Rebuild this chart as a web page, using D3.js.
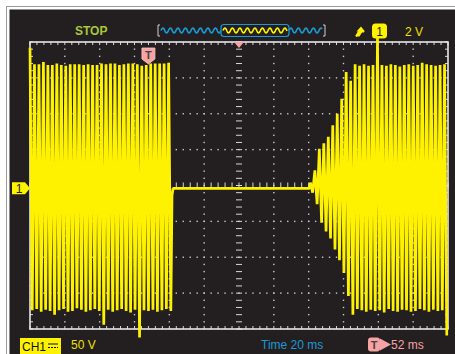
<!DOCTYPE html>
<html>
<head>
<meta charset="utf-8">
<script src="https://cdn.jsdelivr.net/npm/d3@7"></script>
<style>
	body { margin: 0; background: #fff; }
	svg { display: block; font-family: "Liberation Sans", Arial, sans-serif; }
</style>
</head>
<body>
<div id="chart"></div>
<script>
// scope settings
var voltsPerDiv = 50, msPerDiv = 20;
var ch1Offset = -4;          // V, ground marker sits just under centre
var triggerTime = -52;       // ms from screen centre
var samplePeriod = 2.567;    // ms between peaks on screen

// first burst (left), one top + one bottom per cycle, volts
var burst1Start = -120;
var burst1Tops = [196,173,173,176,172,172,174,172,171,173,173,173,172,173,172,172,
	174,173,174,174,172,173,174,174,173,171,172,174,174,174,174,175];
var burst1Bottoms = [-170,-168,-172,-169,-171,-176,-170,-168,-172,-171,-167,-169,-172,-170,-168,-171,
	-190,-169,-172,-170,-168,-171,-173,-169,-208,-170,-171,-169,-172,-170,-168,-171];

// second burst (right), ramps up from zero
var burst2Start = 41;
var burst2Tops = [8,25,55,63,72,88,104,125,162,150,173,171,173,171,172,210,
	172,171,173,172,170,172,173,171,172,175,173,172,171,172,173];
var burst2Bottoms = [-6,-22,-48,-60,-70,-85,-100,-118,-150,-176,-168,-170,-172,-169,-171,-170,
	-173,-168,-171,-172,-169,-170,-172,-171,-168,-170,-172,-169,-171,-170,-205];

// status texts
var statusText = 'STOP', ch1Label = 'CH1', ch1Scale = '50 V', trigLevel = '2 V',
	timeLabel = 'Time 20 ms', trigDelay = '52 ms';

var W = 455, H = 354;
var yellow = '#fff200', blue = '#1a9ad6', pink = '#f5a3a3', green = '#a8c83a';

var x = d3.scaleLinear().domain([-6 * msPerDiv, 6 * msPerDiv]).range([30, 448]);
var y = d3.scaleLinear().domain([-4 * voltsPerDiv, 4 * voltsPerDiv]).range([329, 42]);

var svg = d3.select('#chart').append('svg')
	.attr('width', W).attr('height', H);

// screen frame
svg.append('rect').attr('x', 6.5).attr('y', 6.5).attr('width', W).attr('height', H)
	.attr('fill', 'none').attr('stroke', '#9a9a9a');
svg.append('rect').attr('x', 9.5).attr('y', 9.5).attr('width', W).attr('height', H)
	.attr('fill', '#231f20');

// graticule
var grid = svg.append('g');
var minorT = d3.range(-120, 120.001, msPerDiv / 5);
var minorV = d3.range(-200, 200.001, voltsPerDiv / 5);
var divT = d3.range(-100, 100.001, msPerDiv).filter(function(d) { return d != 0; });
var divV = d3.range(-150, 150.001, voltsPerDiv).filter(function(d) { return d != 0; });

var dots = [];
divT.forEach(function(t) { minorV.slice(1, -1).forEach(function(v) { dots.push([t, v]); }); });
divV.forEach(function(v) { minorT.slice(1, -1).forEach(function(t) { dots.push([t, v]); }); });
grid.selectAll('rect.dot').data(dots).enter().append('rect')
	.attr('class', 'dot')
	.attr('x', function(d) { return x(d[0]) - 0.7; })
	.attr('y', function(d) { return y(d[1]) - 0.7; })
	.attr('width', 1.4).attr('height', 1.4)
	.attr('fill', '#c9c9c9');

var ticks = [];
minorT.forEach(function(t) {
	ticks.push([x(t), 42, x(t), 45]);
	ticks.push([x(t), 329, x(t), 326]);
	ticks.push([x(t), y(0) - 3, x(t), y(0) + 3]);
});
minorV.forEach(function(v) {
	ticks.push([30, y(v), 33, y(v)]);
	ticks.push([448, y(v), 445, y(v)]);
	ticks.push([x(0) - 3, y(v), x(0) + 3, y(v)]);
});
grid.selectAll('line').data(ticks).enter().append('line')
	.attr('x1', function(d) { return d[0]; }).attr('y1', function(d) { return d[1]; })
	.attr('x2', function(d) { return d[2]; }).attr('y2', function(d) { return d[3]; })
	.attr('stroke', '#d8d8d8').attr('stroke-width', 1);

grid.append('rect').attr('x', 30).attr('y', 42).attr('width', 418).attr('height', 287)
	.attr('fill', 'none').attr('stroke', '#e8e8e8').attr('stroke-width', 1.6);

// trace
function burstPoints(t0, tops, bottoms) {
	var pts = [];
	tops.forEach(function(v, i) {
		pts.push([t0 + i * samplePeriod, v]);
		pts.push([t0 + (i + 0.5) * samplePeriod, bottoms[i]]);
	});
	return pts;
}
var end1 = burst1Start + burst1Tops.length * samplePeriod;
var trace = burstPoints(burst1Start, burst1Tops, burst1Bottoms)
	.concat([[end1 - 0.6, -10], [end1, 0], [burst2Start - 0.5, 0]])
	.concat(burstPoints(burst2Start, burst2Tops, burst2Bottoms));

var line = d3.line()
	.x(function(d) { return x(d[0]); })
	.y(function(d) { return y(d[1] + ch1Offset); });

svg.append('path')
	.attr('d', line(trace))
	.attr('fill', 'none')
	.attr('stroke', yellow)
	.attr('stroke-width', 2.7)
	.attr('stroke-linejoin', 'bevel');

// trigger position marker
var tx = x(triggerTime);
svg.append('path')
	.attr('d', 'M' + (tx - 6.5) + ',48 h13 v11 l-6.5,5 l-6.5,-5 z')
	.attr('fill', pink).attr('stroke', '#f7c8c8').attr('stroke-width', 0.8);
svg.append('text').attr('x', tx).attr('y', 58.5).attr('text-anchor', 'middle')
	.attr('font-size', 11).attr('font-weight', 'bold').attr('fill', '#4a4040').text('T');

// expansion point marker
svg.append('path')
	.attr('d', 'M' + (x(0) - 5) + ',42 h10 l-5,6 z').attr('fill', pink);

// channel ground marker
var gy = y(ch1Offset);
svg.append('path')
	.attr('d', 'M12,' + (gy - 6) + ' h13 l5,6 l-5,6 h-13 z').attr('fill', yellow);
svg.append('text').attr('x', 19).attr('y', gy + 4.5).attr('text-anchor', 'middle')
	.attr('font-size', 12).attr('fill', '#222').text('1');

// top bar
svg.append('text').attr('x', 75).attr('y', 35).attr('font-size', 12).attr('font-weight', 'bold')
	.attr('fill', green).text(statusText);

function wave(x0, x1, yc, amp, per) {
	var pts = d3.range(x0, x1 + 0.01, 0.5);
	return d3.line().x(function(d) { return d; })
		.y(function(d) { return yc - amp * Math.sin((d - x0) / per * 2 * Math.PI); })(pts);
}
svg.append('path').attr('d', 'M160,25 h-2 v11 h2 M323,25 h2 v11 h-2')
	.attr('fill', 'none').attr('stroke', '#d0d0d0').attr('stroke-width', 1);
svg.append('path').attr('d', wave(161, 221, 30.5, 2.5, 7.5))
	.attr('fill', 'none').attr('stroke', blue).attr('stroke-width', 1.6);
svg.append('path').attr('d', wave(289, 322, 30.5, 2.5, 7.5))
	.attr('fill', 'none').attr('stroke', blue).attr('stroke-width', 1.6);
svg.append('path').attr('d', wave(223, 287, 30.5, 2.5, 7.5))
	.attr('fill', 'none').attr('stroke', yellow).attr('stroke-width', 1.6);
svg.append('rect').attr('x', 221).attr('y', 24.5).attr('width', 68).attr('height', 12).attr('rx', 3)
	.attr('fill', 'none').attr('stroke', blue).attr('stroke-width', 1.2);

// trigger edge icon
svg.append('path').attr('d', 'M351,36.5 h5 l3,-5 h-2.5 l4.5,-5 l4,5 h-2.5 l-3,5 z')
	.attr('fill', yellow);
svg.append('path').attr('d', 'M356,36.5 l3,-5 M361,31.5 h3')
	.attr('fill', 'none').attr('stroke', yellow).attr('stroke-width', 2);

svg.append('rect').attr('x', 372).attr('y', 23.5).attr('width', 15).attr('height', 15).attr('rx', 3.5)
	.attr('fill', yellow);
svg.append('text').attr('x', 379.5).attr('y', 35.5).attr('text-anchor', 'middle')
	.attr('font-size', 12).attr('fill', '#222').text('1');
svg.append('text').attr('x', 405).attr('y', 36).attr('font-size', 12)
	.attr('fill', '#efe000').text(trigLevel);

// bottom bar
svg.append('rect').attr('x', 20).attr('y', 338).attr('width', 41).attr('height', 17).attr('fill', yellow);
svg.append('text').attr('x', 22).attr('y', 351).attr('font-size', 12).attr('fill', '#111').text(ch1Label);
svg.append('path').attr('d', 'M48,344 h10').attr('stroke', '#111').attr('stroke-width', 1);
svg.append('path').attr('d', 'M48,347.5 h10').attr('stroke', '#111').attr('stroke-width', 1)
	.attr('stroke-dasharray', '2,1');
svg.append('text').attr('x', 71).attr('y', 349).attr('font-size', 12)
	.attr('fill', '#efe000').text(ch1Scale);

svg.append('text').attr('x', 261).attr('y', 349).attr('font-size', 12)
	.attr('fill', blue).text(timeLabel);

svg.append('rect').attr('x', 368).attr('y', 337.5).attr('width', 12).attr('height', 14).attr('rx', 3)
	.attr('fill', pink);
svg.append('text').attr('x', 374).attr('y', 349).attr('text-anchor', 'middle')
	.attr('font-size', 11).attr('font-weight', 'bold').attr('fill', '#4a4040').text('T');
svg.append('path').attr('d', 'M380,338.5 l11,6 l-11,6 z').attr('fill', pink);
svg.append('text').attr('x', 391).attr('y', 349).attr('font-size', 12)
	.attr('fill', pink).text(trigDelay);
</script>
</body>
</html>
